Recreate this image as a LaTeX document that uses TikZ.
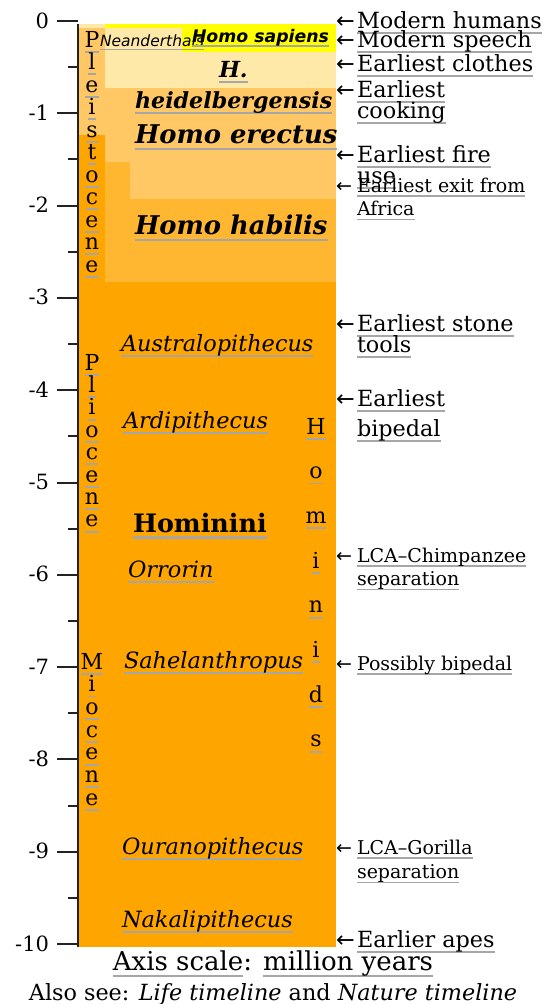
\documentclass[tikz,border=0pt]{standalone}
\usepackage{fontspec}
\setmainfont{DejaVu Serif}
\newfontfamily\dvsans{DejaVu Sans}
\definecolor{hominini}{HTML}{FFA500}
\definecolor{homomed}{HTML}{FFB631}
\definecolor{homolight}{HTML}{FFC864}
\definecolor{homocream}{HTML}{FFE9A8}
\definecolor{sapiens}{HTML}{FFFF00}
\definecolor{ulgray}{HTML}{A6A6A6}
\definecolor{axisc}{HTML}{222222}
\lineskiplimit=-100pt
\newcommand\wl[1]{\setbox0\hbox{#1}\leavevmode\rlap{\color{ulgray}\rule[-0.26em]{\wd0}{0.085em}}\box0}
\newcommand\vl[1]{\hbox to 0pt{\hss\wl{#1}\hss}}
\newcommand\arr{\makebox[21pt][l]{{\dvsans ←}}}
\tikzset{
  lbl/.style={inner sep=0pt, outer sep=0pt},
  rbig/.style={lbl, anchor=base west, font=\fontsize{22.3}{21.5}\selectfont},
  rsmall/.style={lbl, anchor=base west, font=\fontsize{19}{23.5}\selectfont},
  spit/.style={lbl, anchor=base west, font=\fontsize{22.4}{24}\selectfont\itshape},
  spbi/.style={lbl, anchor=base west, font=\fontsize{22.2}{24}\selectfont\bfseries\itshape},
  spbig/.style={lbl, anchor=base west, font=\fontsize{25.8}{28}\selectfont\bfseries\itshape},
  axnum/.style={lbl, anchor=base east, font=\fontsize{21}{22}\selectfont},
  epoch/.style={lbl, anchor=base, font=\fontsize{22}{22}\selectfont},
  tickline/.style={axisc, line width=2pt},
}
\begin{document}
\begin{tikzpicture}[x=1pt,y=-1pt]
\useasboundingbox (0,0) rectangle (545,1004);
% colour bands
\fill[hominini] (78,24) rectangle (336,947);
\fill[homomed] (105,162) rectangle (336,282);
\fill[homolight] (105,88) rectangle (336,162);
\fill[homolight] (130,162) rectangle (336,199);
\fill[homolight] (78,28) rectangle (105,135);
\fill[homocream] (105,28) rectangle (336,88);
\fill[homocream] (78,24) rectangle (105,28);
\fill[sapiens] (105,24) rectangle (336,28);
\fill[sapiens] (182,28) rectangle (336,52);
% axis
\draw[tickline] (78,24) -- (78,947);
\foreach \k in {0,...,10} {
  \draw[tickline] (57,{21+92.3*\k}) -- (78,{21+92.3*\k});
  \node[axnum] (n\k) at (49,{28+92.3*\k}) {\ifnum\k=0 0\else -\k\fi};
}
\foreach \k in {0,...,9} {
  \draw[tickline] (68,{21+92.3*(\k+0.5)}) -- (78,{21+92.3*(\k+0.5)});
}
% epochs
\node[epoch] (pleist) at (92,47) {\vtop{\baselineskip=22.5pt
  \vl{P}\vl{l}\vl{e}\vl{i}\vl{s}\vl{t}\vl{o}\vl{c}\vl{e}\vl{n}\vl{e}}};
\node[epoch] (plio) at (92,370) {\vtop{\baselineskip=22.4pt
  \vl{P}\vl{l}\vl{i}\vl{o}\vl{c}\vl{e}\vl{n}\vl{e}}};
\node[epoch] (mio) at (92,669) {\vtop{\baselineskip=22.7pt
  \vl{M}\vl{i}\vl{o}\vl{c}\vl{e}\vl{n}\vl{e}}};
\node[epoch] (hominids) at (316,434) {\vtop{\baselineskip=44.7pt
  \vl{H}\vl{o}\vl{m}\vl{i}\vl{n}\vl{i}\vl{d}\vl{s}}};
% taxa
\node[lbl, anchor=base west, font=\fontsize{15.5}{17}\selectfont\dvsans\itshape] (nea) at (100,46) {\wl{Neanderthals}};
\node[lbl, anchor=base west, font=\fontsize{17.3}{19}\selectfont\dvsans\bfseries\itshape] (sap) at (192,42) {\wl{Homo sapiens}};
\node[spbi] (h) at (219,77) {\wl{H.}};
\node[spbi] (heid) at (135,108) {\wl{heidelbergensis}};
\node[spbig] (erectus) at (135,143) {\wl{Homo erectus}};
\node[spbig] (habilis) at (135,234) {\wl{Homo habilis}};
\node[spit] (austra) at (121,351) {\wl{Australopithecus}};
\node[spit] (ardi) at (123,428) {\wl{Ardipithecus}};
\node[lbl, anchor=base west, font=\fontsize{25.4}{26}\selectfont\bfseries] (hominini) at (133,532) {\wl{Hominini}};
\node[spit] (orrorin) at (128,577) {\wl{Orrorin}};
\node[spit] (sahel) at (124,668) {\wl{Sahelanthropus}};
\node[spit] (ourano) at (122,854) {\wl{Ouranopithecus}};
\node[spit] (nakali) at (122,927) {\wl{Nakalipithecus}};
% events
\node[rbig] (e1) at (336,28) {\arr\wl{Modern humans}};
\node[rbig] (e2) at (336,47) {\arr\wl{Modern speech}};
\node[rbig] (e3) at (336,71) {\arr\wl{Earliest clothes}};
\node[rbig] (e4) at (336,97) {\arr\vtop{\hbox{\wl{Earliest}}\hbox{\wl{cooking}}}};
\node[rbig] (e5) at (336,162) {\arr\vtop{\hbox{\wl{Earliest fire}}\hbox{\wl{use}}}};
\node[rsmall] (e6) at (336,192) {\arr\vtop{\hbox{\wl{Earliest exit from}}\hbox{\wl{Africa}}}};
\node[rbig] (e7) at (336,331) {\arr\vtop{\hbox{\wl{Earliest stone}}\hbox{\wl{tools}}}};
\node[rbig, font=\fontsize{22.3}{30}\selectfont] (e8) at (336,406) {\arr\vtop{\hbox{\wl{Earliest}}\hbox{\wl{bipedal}}}};
\node[rsmall] (e9) at (336,562) {\arr\vtop{\hbox{\wl{LCA–Chimpanzee}}\hbox{\wl{separation}}}};
\node[rsmall] (e10) at (336,670) {\arr\wl{Possibly bipedal}};
\node[rsmall, font=\fontsize{19}{24.5}\selectfont] (e11) at (336,854) {\arr\vtop{\hbox{\wl{LCA–Gorilla}}\hbox{\wl{separation}}}};
\node[rbig] (e12) at (336,947) {\arr\wl{Earlier apes}};
% footer
\node[lbl, anchor=base, font=\fontsize{26}{28}\selectfont] (scale) at (273,970) {\wl{Axis scale}: \wl{million years}};
\node[lbl, anchor=base, font=\fontsize{22.3}{24}\selectfont] (also) at (273,1000) {Also see: \textit{Life timeline} and \textit{Nature timeline}};
\end{tikzpicture}
\end{document}
